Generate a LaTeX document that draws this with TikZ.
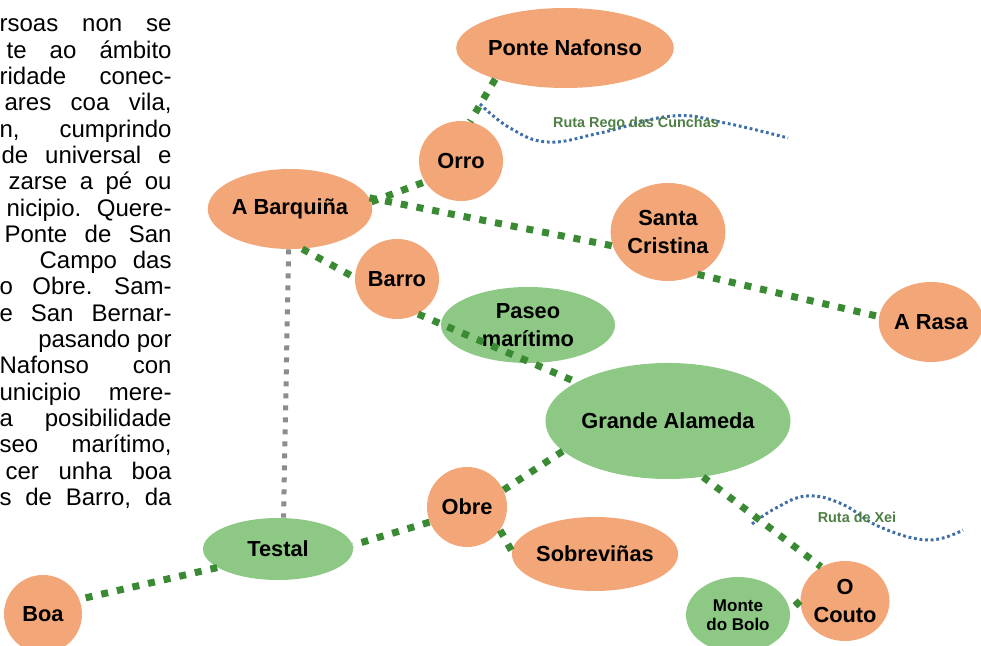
\documentclass[tikz,border=0pt]{standalone}
\usepackage{fontspec}
\setmainfont{Liberation Sans}
\usetikzlibrary{shapes.geometric}

\definecolor{naranxa}{HTML}{F3A678}
\definecolor{verde}{HTML}{8DC885}
\definecolor{camino}{HTML}{3A8A34}
\definecolor{estrada}{HTML}{8C8C8C}
\definecolor{azulruta}{HTML}{3F6FA8}
\definecolor{rutatexto}{HTML}{4F7F45}

\begin{document}
\begin{tikzpicture}[
    x = 0.5pt, y = -0.5pt,
    lugar/.style = {
      ellipse, fill = naranxa, inner sep = 0pt, align = center,
      font = \fontsize{10.9}{14}\selectfont\bfseries
    },
    parque/.style = {lugar, fill = verde},
    senda/.style = {draw = camino, line width = 3.5pt, dash pattern = on 3.5pt off 4.5pt},
    pista/.style = {draw = estrada, line width = 2.5pt, dash pattern = on 2.5pt off 3.5pt},
    rego/.style  = {draw = azulruta, line width = 1.5pt, dash pattern = on 1.4pt off 1.4pt},
    rotulo/.style = {font = \fontsize{7.2}{8}\selectfont\bfseries, text = rutatexto, inner sep = 0pt},
    texto/.style = {anchor = base east, inner sep = 0pt, font = \fontsize{12}{13}\selectfont}
  ]

  \useasboundingbox (0,0) rectangle (981,646);
  \clip (0,0) rectangle (981,646);

  % ---- texto do parágrafo (cortado á esquerda) ----
  \foreach \i/\w/\txt in {
      1/86/{rsoas \hfill non \hfill se}, 2/82.5/{te \hfill ao \hfill ámbito},
      3/86/{ridade \hfill conec-}, 4/83.5/{ares \hfill coa \hfill vila,},
      5/86/{n, \hfill cumprindo}, 6/85/{de \hfill universal \hfill e},
      7/81.5/{zarse \hfill a \hfill pé \hfill ou}, 8/82.5/{nicipio. \hfill Quere-},
      9/83.5/{Ponte \hfill de \hfill San}, 10/66/{Campo \hfill das},
      11/86/{o \hfill Obre. \hfill Sam-}, 12/86/{e \hfill San \hfill Bernar-},
      13/64/{pasando \hfill por}, 14/86/{Nafonso \hfill con},
      15/86/{unicipio \hfill mere-}, 16/86/{a \hfill posibilidade},
      17/86/{seo \hfill marítimo,}, 18/83/{cer \hfill unha \hfill boa},
      19/86/{s \hfill de \hfill Barro, \hfill da}}
    \node[texto] (p\i) at (172,{32+26.3*(\i-1)})
      {\hbox to \w pt{\hskip 0pt minus 60pt\txt}};

  % ---- rutas ----
  \draw[rego] plot[smooth, tension = 0.7] coordinates
    {(480,104) (510,128) (548,142) (600,133) (672,116) (725,123) (788,138)};
  \draw[rego] plot[smooth, tension = 0.7] coordinates
    {(752,524) (776,508) (807,496) (842,504) (880,527) (928,540) (963,530)};
  \node[rotulo] (rrego) at (636,124) {Ruta Rego das Cunchas};
  \node[rotulo] (rxei)  at (857,517) {Ruta de Xei};

  % ---- lugares ----
  \node[lugar, minimum width = 95pt, minimum height = 40pt] (ponte) at (565,48)  {Ponte Nafonso};
  \node[lugar, minimum width = 42pt, minimum height = 40pt] (orro)  at (461,161) {Orro};
  \node[lugar, minimum width = 66pt, minimum height = 40pt] (barq)  at (290,209) {A Barquiña};
  \node[lugar, minimum width = 50pt, minimum height = 49pt] (santa) at (668,232) {Santa\\Cristina};
  \node[lugar, minimum width = 42pt, minimum height = 40pt] (barro) at (397,279) {Barro};
  \node[parque, minimum width = 87pt, minimum height = 38pt] (paseo) at (528,325) {Paseo\\marítimo};
  \node[lugar, minimum width = 49pt, minimum height = 40pt] (rasa)  at (931,322) {A Rasa};
  \node[parque, minimum width = 120pt, minimum height = 58pt] (alameda) at (668,421) {Grande Alameda};
  \node[lugar, minimum width = 40pt, minimum height = 40pt] (obre)  at (467,507) {Obre};
  \node[lugar, minimum width = 73pt, minimum height = 37pt] (sobre) at (595,554) {Sobreviñas};
  \node[parque, minimum width = 75pt, minimum height = 31pt] (testal) at (278,549) {Testal};
  \node[lugar, minimum width = 39pt, minimum height = 39pt] (boa)   at (43,614)  {Boa};
  \node[lugar, minimum width = 40pt, minimum height = 40pt] (couto) at (845,601) {O\\Couto};
  \node[parque, minimum width = 52pt, minimum height = 38pt,
        font = \fontsize{8.5}{9.5}\selectfont\bfseries] (monte) at (738,615) {Monte\\do Bolo};

  % ---- camiños ----
  \draw[senda] (ponte.-156) -- (orro.77);
  \draw[senda] (barq.5)     -- (orro.-150);
  \draw[senda] (barq.8)     -- (santa.-166);
  \draw[senda] (santa.-55)  -- (rasa.174);
  \draw[senda] (barq.-73)   -- (barro.178);
  \draw[senda] (barro.-59)  -- (alameda.157);
  \draw[senda] (alameda.-164) -- (obre.25);
  \draw[senda] (obre.-158)  -- (testal.3);
  \draw[senda] (testal.-163) -- (boa.22);
  \draw[senda] (obre.-35)   -- (sobre.178);
  \draw[senda] (alameda.-58) -- (couto.125);
  \draw[senda] (couto.180)  -- (monte.5);
  \draw[pista] (barq.-92)   -- (testal.80);

\end{tikzpicture}
\end{document}
